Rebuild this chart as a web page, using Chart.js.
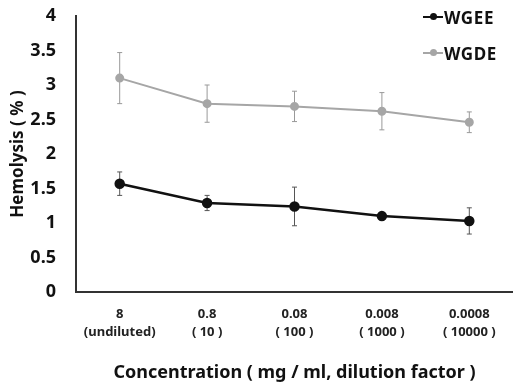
<!DOCTYPE html>
<html>
<head>
<meta charset="utf-8">
<script src="https://cdn.jsdelivr.net/npm/chart.js@4.4.0/dist/chart.umd.min.js"></script>
<style>
  html, body { margin: 0; padding: 0; background: #fff; }
  #wrap { position: relative; width: 513px; height: 386px; }
  .leg { position: absolute; left: 423px; height: 20px; font: bold 17px "Noto Sans", sans-serif; letter-spacing: 0.6px; color: #111; display: flex; align-items: center; }
  .leg i { display: inline-block; position: relative; width: 20px; height: 2px; margin-right: 1px; }
  .leg i b { position: absolute; left: 7px; top: -3px; width: 7px; height: 7px; border-radius: 50%; }
</style>
</head>
<body>
<div id="wrap">
  <canvas id="c" width="513" height="386"></canvas>
  <div class="leg" style="top:7px"><i style="background:#111"><b style="background:#111"></b></i>WGEE</div>
  <div class="leg" style="top:43px"><i style="background:#a6a6a6"><b style="background:#a6a6a6"></b></i>WGDE</div>
</div>
<script>
// concentration (mg/ml) and dilution factor labels
const concentrations = ['8', '0.8', '0.08', '0.008', '0.0008'];
const dilutions = ['(undiluted)', '( 10 )', '( 100 )', '( 1000 )', '( 10000 )'];

// hemolysis (%)
const wgee = [1.57, 1.29, 1.24, 1.10, 1.03];
const wgeeErr = [0.17, 0.11, 0.28, 0.02, 0.19];
const wgde = [3.10, 2.73, 2.69, 2.62, 2.46];
const wgdeErr = [0.37, 0.27, 0.22, 0.27, 0.15];

const yTicks = [0, 0.5, 1, 1.5, 2, 2.5, 3, 3.5, 4];

// simple error bar drawing, uses the chart's own scales
const errorBars = {
  id: 'errorBars',
  beforeDatasetDraw(chart, args) {
    const ds = chart.data.datasets[args.index];
    if (!ds.errors) return;
    const { ctx, scales: { x, y } } = chart;
    ctx.save();
    ctx.strokeStyle = ds.errorColor;
    ctx.lineWidth = 1;
    ds.data.forEach((v, i) => {
      const px = x.getPixelForValue(i);
      const top = y.getPixelForValue(v + ds.errors[i]);
      const bot = y.getPixelForValue(v - ds.errors[i]);
      ctx.beginPath();
      ctx.moveTo(px, top); ctx.lineTo(px, bot);
      ctx.moveTo(px - 2.5, top); ctx.lineTo(px + 2.5, top);
      ctx.moveTo(px - 2.5, bot); ctx.lineTo(px + 2.5, bot);
      ctx.stroke();
    });
    ctx.restore();
  }
};

const font = '"Noto Sans", sans-serif';

new Chart(document.getElementById('c'), {
  type: 'line',
  data: {
    labels: concentrations.map((c, i) => [c, dilutions[i]]),
    datasets: [
      {
        label: 'WGEE', data: wgee, errors: wgeeErr, errorColor: '#555',
        borderColor: '#111', backgroundColor: '#111', borderWidth: 2.5,
        pointRadius: 4, pointHoverRadius: 4, tension: 0
      },
      {
        label: 'WGDE', data: wgde, errors: wgdeErr, errorColor: '#999',
        borderColor: '#a6a6a6', backgroundColor: '#a6a6a6', borderWidth: 2,
        pointRadius: 3.5, pointHoverRadius: 3.5, tension: 0
      }
    ]
  },
  options: {
    responsive: false,
    animation: false,
    layout: { autoPadding: false, padding: { top: 16, right: 0, left: 0, bottom: 0 } },
    plugins: { legend: { display: false }, tooltip: { enabled: false } },
    scales: {
      x: {
        offset: true,
        grid: { display: false, drawTicks: false, offset: true },
        border: { display: true, color: '#333', width: 2 },
        ticks: { color: '#222', font: { family: font, size: 13, weight: 'bold', lineHeight: 1.35 }, padding: 14, maxRotation: 0 },
        title: { display: true, text: 'Concentration ( mg / ml, dilution factor )', color: '#111',
                 font: { family: font, size: 18, weight: 'bold' }, padding: { top: 20, bottom: 2 } },
        afterFit: s => { s.height = 94; s.paddingLeft = 0; s.paddingRight = 0; }
      },
      y: {
        min: 0, max: 4,
        afterBuildTicks: s => { s.ticks = yTicks.map(v => ({ value: v })); },
        grid: { display: false, drawTicks: false },
        border: { display: true, color: '#333', width: 2 },
        ticks: { color: '#111', font: { family: font, size: 18, weight: 'bold' }, padding: 20,
                 callback: v => String(v) },
        title: { display: true, text: 'Hemolysis ( % )', color: '#111',
                 font: { family: font, size: 17, weight: 'bold' }, padding: { top: 8, bottom: 0 } },
        afterFit: s => { s.width = 76; s.paddingTop = 0; s.paddingBottom = 0; }
      }
    }
  },
  plugins: [errorBars]
});
</script>
</body>
</html>
